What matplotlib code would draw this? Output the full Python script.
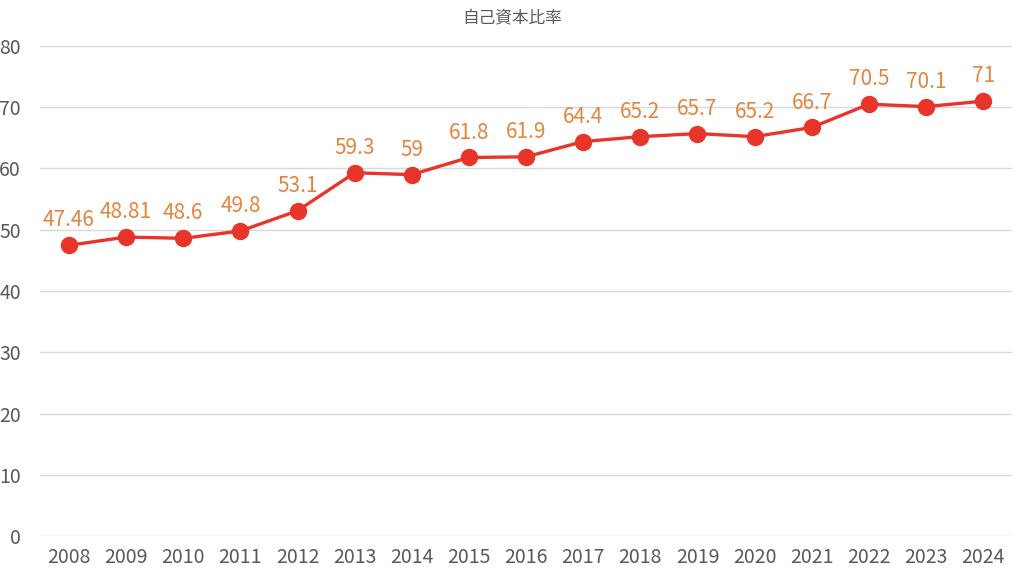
import matplotlib
matplotlib.use('Agg')
import matplotlib.pyplot as plt

plt.rcParams['font.family'] = ['Noto Sans CJK JP', 'DejaVu Sans']

years = ['2008', '2009', '2010', '2011', '2012', '2013', '2014', '2015', '2016',
         '2017', '2018', '2019', '2020', '2021', '2022', '2023', '2024']
ratio = [47.46, 48.81, 48.6, 49.8, 53.1, 59.3, 59, 61.8, 61.9,
         64.4, 65.2, 65.7, 65.2, 66.7, 70.5, 70.1, 71]
labels = ['47.46', '48.81', '48.6', '49.8', '53.1', '59.3', '59', '61.8', '61.9',
          '64.4', '65.2', '65.7', '65.2', '66.7', '70.5', '70.1', '71']

fig = plt.figure(figsize=(10.24, 5.72), dpi=100)
ax = fig.add_axes([0.0395, 0.0629, 0.9485, 0.8567])

x = range(len(years))
ax.plot(x, ratio, color='#E8352A', lw=2.4, marker='o', ms=11.5, zorder=3)
for i, (v, s) in enumerate(zip(ratio, labels)):
    ax.annotate(s, (i, v), xytext=(0, 10), textcoords='offset points',
                ha='center', va='bottom', color='#E3853F', fontsize=15)

ax.set_xlim(-0.5, len(years) - 0.5)
ax.set_ylim(0, 80)
ax.set_yticks(range(0, 81, 10))
ax.set_xticks(list(x))
ax.set_xticklabels(years)
ax.grid(axis='y', color='#D9D9D9', lw=1)
ax.set_axisbelow(True)
for sp in ax.spines.values():
    sp.set_visible(False)
ax.tick_params(length=0, labelsize=14, colors='#595959')
ax.tick_params(axis='y', pad=14)
ax.tick_params(axis='x', pad=8)

fig.text(0.5, 0.968, '自己資本比率', ha='center', va='center', fontsize=12,
         color='#595959')

fig.savefig('out.png', dpi=100)
